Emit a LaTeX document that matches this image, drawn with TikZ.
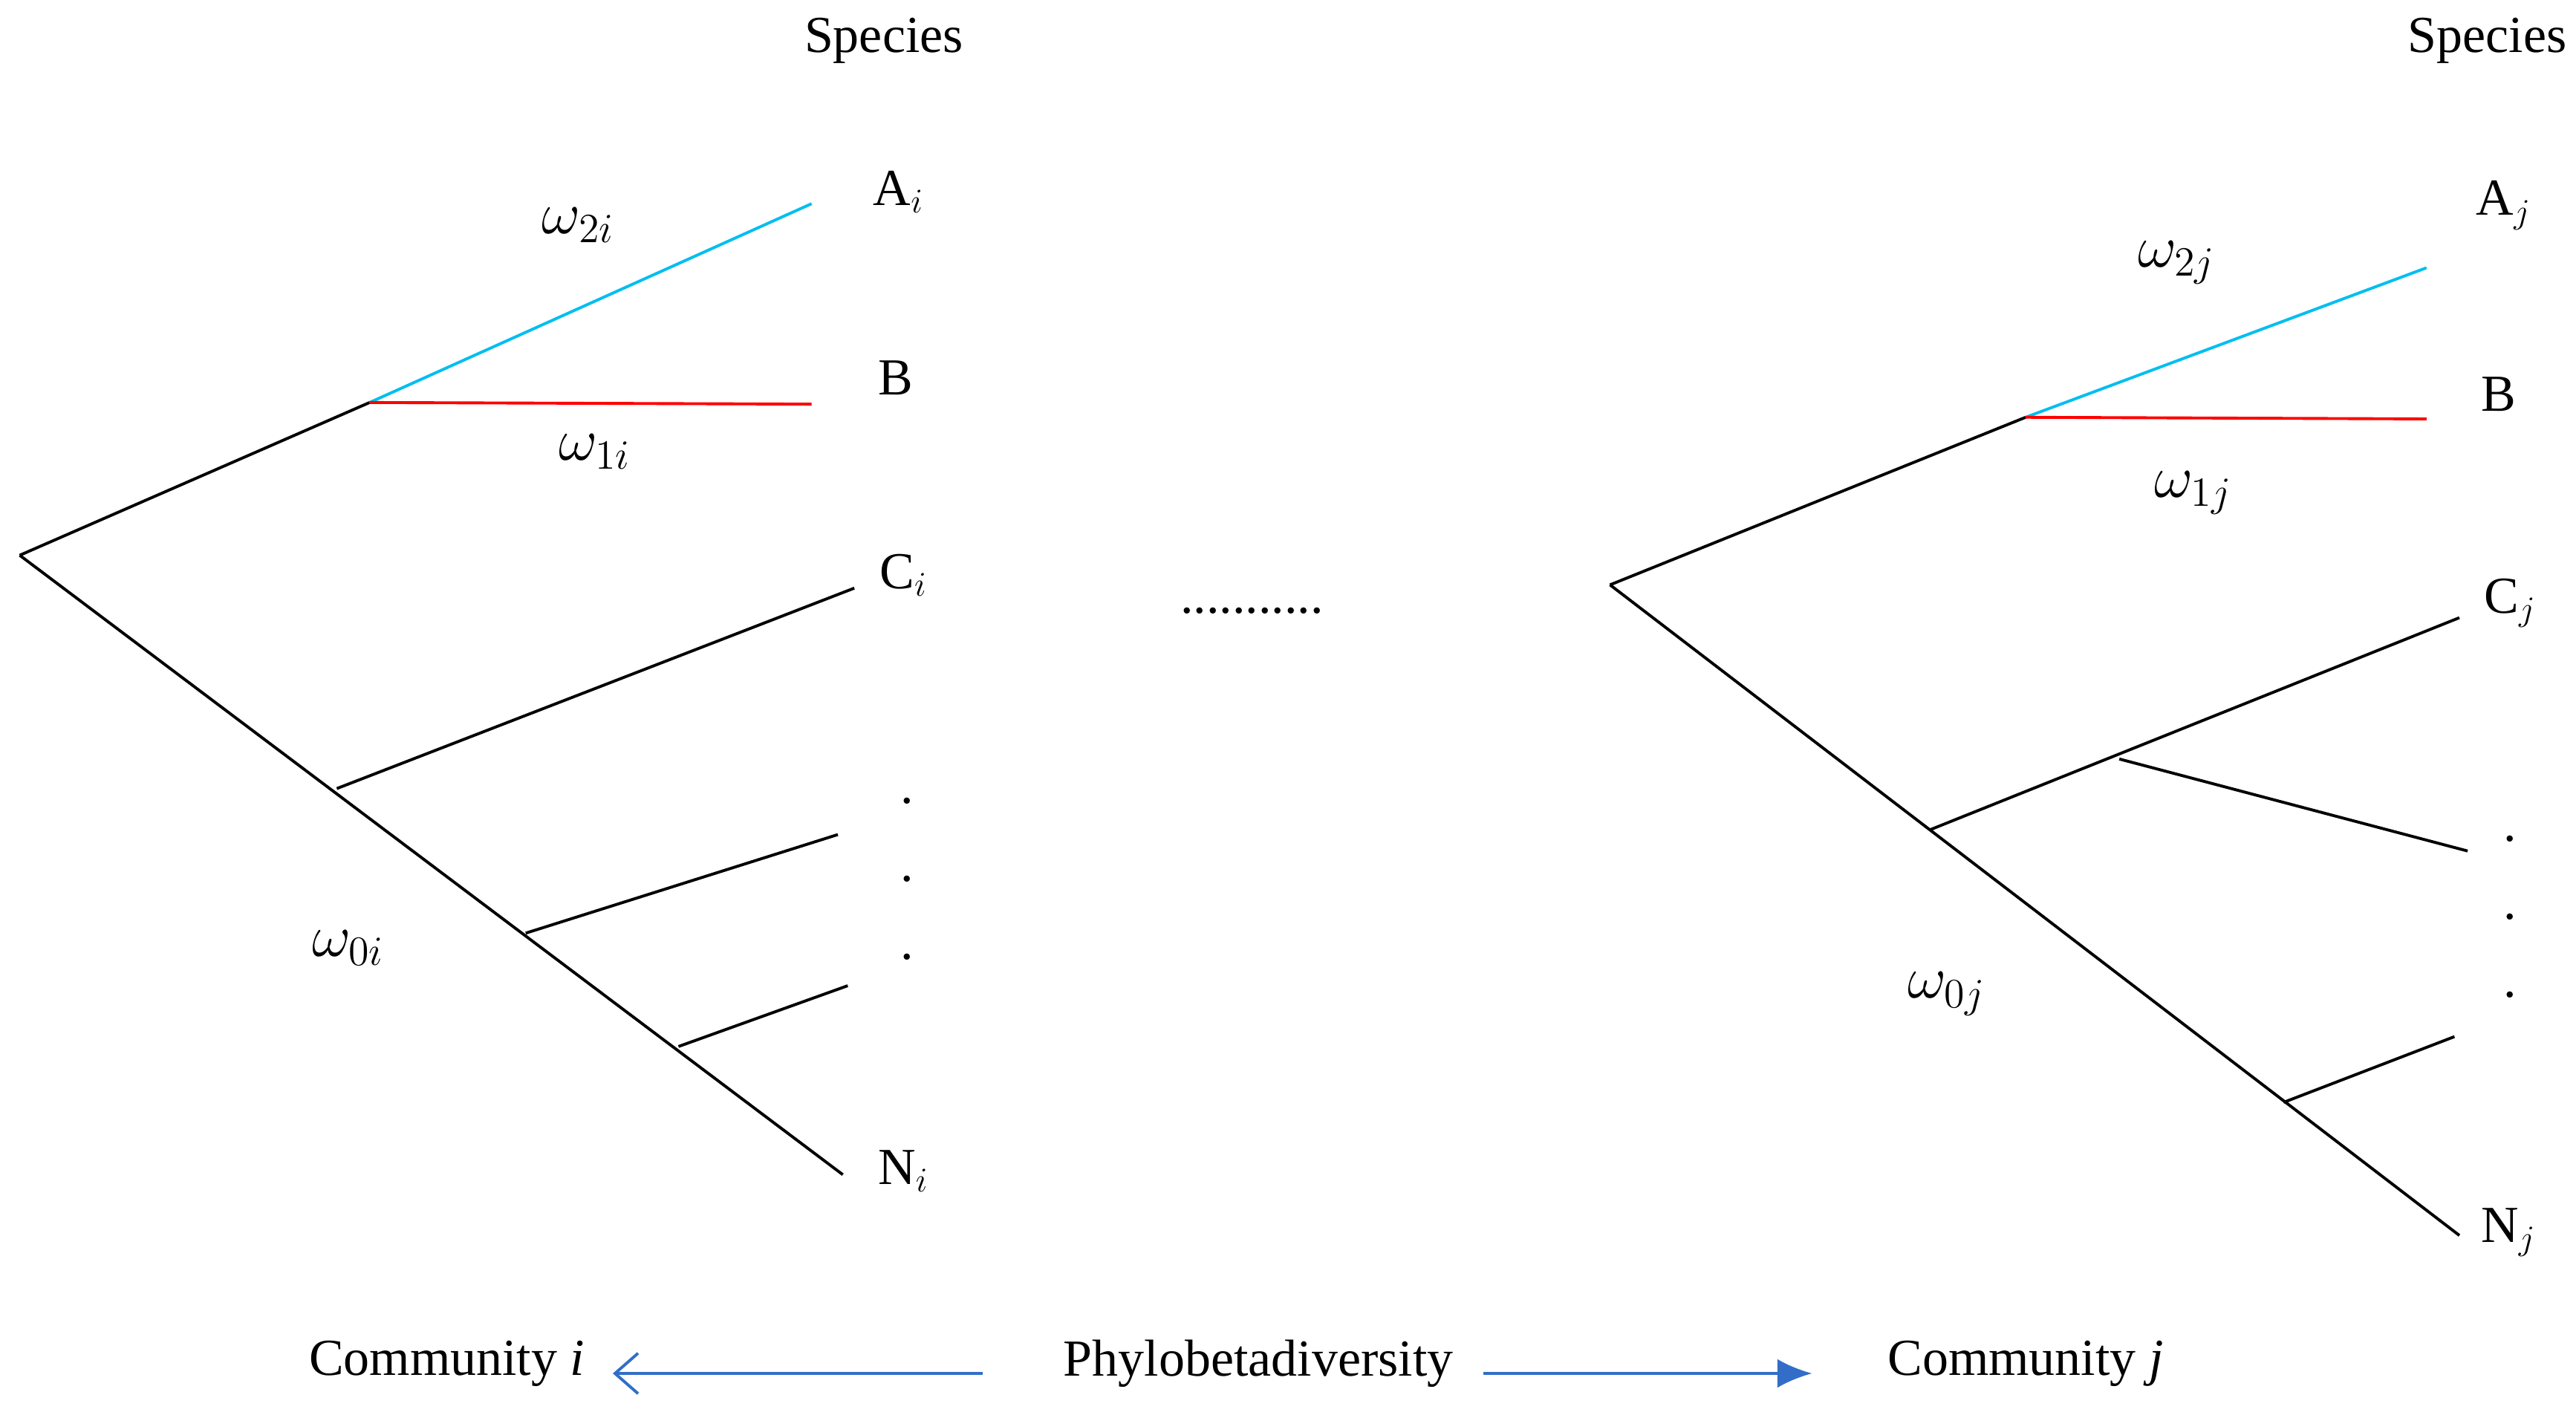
\documentclass[tikz,border=0pt]{standalone}
\usepackage{fontspec}
\setmainfont{Liberation Serif}
\usetikzlibrary{arrows.meta}
\begin{document}
\begin{tikzpicture}
            [
                x=0.02cm, y=-0.02cm,
                every node/.style={font=\fontsize{18}{21}\selectfont},
                weight/.style={font=\fontsize{21}{24}\selectfont},
                branch/.style={line width=1pt},
                blueedge/.style={branch, draw={rgb,255:red,0;green,190;blue,240}},
                rededge/.style={branch, draw=red},
                relation/.style={line width=1pt, draw={rgb,255:red,50;green,110;blue,200}}
            ]
            \useasboundingbox (0,0) rectangle (1568,861);
            % community i
            \coordinate (ri) at (12,338);
            \coordinate (ki) at (225,245);
            \coordinate (ai) at (494,124);
            \coordinate (bi) at (494,246);
            \coordinate (ni) at (513,715);
            \coordinate (c1i) at (205,480);
            \coordinate (ci) at (520,358);
            \coordinate (d1i) at (320,568);
            \coordinate (d2i) at (510,508);
            \coordinate (e1i) at (413,637);
            \coordinate (e2i) at (516,600);
            \draw[branch] (ri) -- (ki);
            \draw[blueedge] (ki) -- (ai);
            \draw[rededge] (ki) -- (bi);
            \draw[branch] (ri) -- (ni);
            \draw[branch] (c1i) -- (ci);
            \draw[branch] (d1i) -- (d2i);
            \draw[branch] (e1i) -- (e2i);
            \node (spi) at (538,25) {Species};
            \node (lai) at (547,117) {A$_i$};
            \node (lbi) at (545,230) {B};
            \node (lci) at (550,350) {C$_i$};
            \node (lni) at (550,713) {N$_i$};
            \node[align=center] (vdi) at (552,535) {.\\[6pt].\\[6pt].};
            \node[weight] (w2i) at (352,137) {$\omega_{2i}$};
            \node[weight] (w1i) at (362,275) {$\omega_{1i}$};
            \node[weight] (w0i) at (212,577) {$\omega_{0i}$};
            % middle
            \node (dots) at (762,372) {...........};
            % community j
            \coordinate (rj) at (980,356);
            \coordinate (kj) at (1233,254);
            \coordinate (aj) at (1477,163);
            \coordinate (bj) at (1477,255);
            \coordinate (nj) at (1497,752);
            \coordinate (c1j) at (1175,505);
            \coordinate (cj) at (1497,376);
            \coordinate (s1j) at (1290,462);
            \coordinate (s2j) at (1502,518);
            \coordinate (e1j) at (1390,671);
            \coordinate (e2j) at (1494,631);
            \draw[branch] (rj) -- (kj);
            \draw[blueedge] (kj) -- (aj);
            \draw[rededge] (kj) -- (bj);
            \draw[branch] (rj) -- (nj);
            \draw[branch] (c1j) -- (cj);
            \draw[branch] (s1j) -- (s2j);
            \draw[branch] (e1j) -- (e2j);
            \node (spj) at (1514,25) {Species};
            \node (laj) at (1524,125) {A$_j$};
            \node (lbj) at (1521,240) {B};
            \node (lcj) at (1528,367) {C$_j$};
            \node (lnj) at (1527,750) {N$_j$};
            \node[align=center] (vdj) at (1528,558) {.\\[6pt].\\[6pt].};
            \node[weight] (w2j) at (1325,160) {$\omega_{2j}$};
            \node[weight] (w1j) at (1335,300) {$\omega_{1j}$};
            \node[weight] (w0j) at (1185,605) {$\omega_{0j}$};
            % bottom
            \node (comi) at (272,830) {Community \textit{i}};
            \node (phylo) at (766,830) {Phylobetadiversity};
            \node (comj) at (1233,830) {Community \textit{j}};
            \coordinate (li) at (598,836);
            \coordinate (lo) at (373,836);
            \coordinate (ro) at (903,836);
            \coordinate (rt) at (1103,836);
            \draw[relation, -{Straight Barb[length=8pt,width=14pt]}] (li) -- (lo);
            \draw[relation, -{Latex[length=12pt,width=10pt]}] (ro) -- (rt);
\end{tikzpicture}
\end{document}
